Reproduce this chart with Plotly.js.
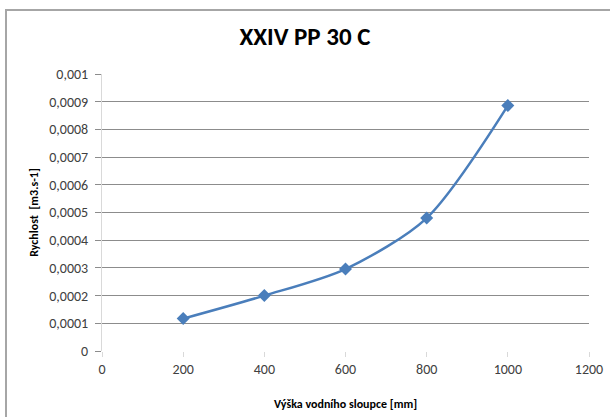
<!DOCTYPE html>
<html>
<head>
<meta charset="utf-8">
<script src="https://cdn.plot.ly/plotly-3.0.1.min.js"></script>
<style>
html,body{margin:0;padding:0;background:#fff;}
#wrap{position:relative;width:610px;height:417px;overflow:hidden;}
#frame{position:absolute;left:5px;top:9px;width:700px;height:500px;border-left:2px solid #a6a6a6;border-top:2px solid #a6a6a6;box-sizing:border-box;}
#chart{position:absolute;left:0;top:0;width:610px;height:417px;}
</style>
</head>
<body>
<div id="wrap">
<div id="chart"></div>
<div id="frame"></div>
</div>
<script>
const heights = [200, 400, 600, 800, 1000];
const speeds = [0.000117, 0.0002, 0.000296, 0.00048, 0.000886];
const xTicks = [0, 200, 400, 600, 800, 1000, 1200];
const yTicks = [0, 0.0001, 0.0002, 0.0003, 0.0004, 0.0005, 0.0006, 0.0007, 0.0008, 0.0009, 0.001];
const yTickText = ['0', '0,0001', '0,0002', '0,0003', '0,0004', '0,0005', '0,0006', '0,0007', '0,0008', '0,0009', '0,001'];

const font = 'Carlito, Calibri, "Liberation Sans", Arial, sans-serif';

Plotly.newPlot('chart', [{
  x: heights,
  y: speeds,
  type: 'scatter',
  mode: 'lines+markers',
  line: {color: '#4a7ebb', width: 2.5, shape: 'spline', smoothing: 0.8},
  marker: {symbol: 'diamond', size: 10, color: '#4a7ebb'},
  showlegend: false
}], {
  width: 610,
  height: 417,
  margin: {l: 102, r: 21, t: 74, b: 66},
  paper_bgcolor: '#fff',
  plot_bgcolor: '#fff',
  title: {text: '<b>XXIV PP 30 C</b>', x: 0.5, xanchor: 'center', y: 0.912, yanchor: 'middle',
          font: {family: font, size: 25, color: '#000'}},
  xaxis: {
    range: [0, 1200],
    tickvals: xTicks,
    ticktext: xTicks.map(String),
    showgrid: false,
    zeroline: false,
    showline: false,
    ticks: 'outside', ticklen: 5, tickcolor: '#d9d9d9',
    tickfont: {family: font, size: 14, color: '#404040'},
    title: {text: '<b>Výška vodního sloupce [mm]</b>', font: {family: font, size: 12, color: '#000'}, standoff: 22}
  },
  yaxis: {
    range: [0, 0.001],
    tickvals: yTicks,
    ticktext: yTickText,
    showgrid: true, gridcolor: '#8c8c8c', gridwidth: 1,
    zeroline: false,
    showline: true, linecolor: '#d9d9d9', linewidth: 1,
    ticks: 'outside', ticklen: 6, tickcolor: '#8c8c8c',
    ticklabelstandoff: 4,
    tickfont: {family: font, size: 14, color: '#404040'},
    title: {text: '<b>Rychlost  [m3.s-1]</b>', font: {family: font, size: 12, color: '#000'}, standoff: 8}
  }
}, {displayModeBar: false, staticPlot: true});
</script>
</body>
</html>
